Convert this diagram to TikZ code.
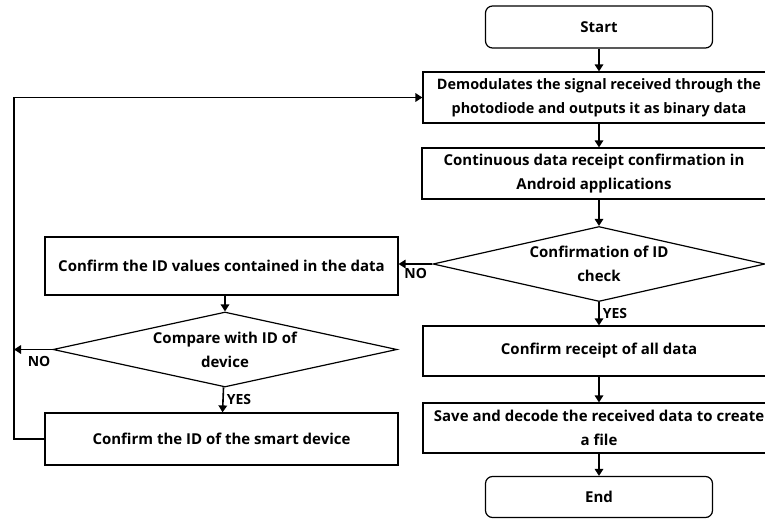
\documentclass[tikz,border=0pt]{standalone}
\usepackage{fontspec}
\setmainfont{Open Sans}
\usetikzlibrary{shapes.geometric,arrows.meta}

\tikzset{
  flow/.style={line width=1.6pt, -{Triangle[width=8.5pt,length=7pt]}},
  proc/.style={draw, line width=1.2pt, fill=white, align=center, inner sep=0pt,
    font=\bfseries\fontsize{15}{24}\selectfont},
  term/.style={proc, rounded corners=7pt, minimum width=227pt, minimum height=42pt},
  test/.style={proc, diamond, aspect=4.5, minimum height=75pt},
  tag/.style={font=\bfseries\fontsize{14}{16}\selectfont, inner sep=1pt}
}

\begin{document}
\begin{tikzpicture}[x=1pt,y=-1pt]
  \useasboundingbox (0,0) rectangle (765,519);
  \begin{scope}
  \clip (0,0) rectangle (765,519);

  %% right column
  \node[term] (start) at (599,27) {Start};
  \node[proc, minimum width=352pt, minimum height=51pt,
    font=\bfseries\fontsize{14.4}{24}\selectfont] (demod) at (599,97.5)
    {Demodulates the signal received through the\\photodiode and outputs it as binary data};
  \node[proc, minimum width=344pt, minimum height=51pt] (cont) at (594,173.5)
    {Continuous data receipt confirmation in\\Android applications};
  \node[test, minimum width=332pt] (chkid) at (599,264) {Confirmation of ID\\check};
  \node[proc, minimum width=352pt, minimum height=50pt] (recv) at (599,351)
    {Confirm receipt of all data};
  \node[proc, minimum width=352pt, minimum height=50pt] (save) at (599,428)
    {Save and decode the received data to create\\a file};
  \node[term, minimum height=41pt] (end) at (599,497) {End};

  %% left column
  \node[proc, minimum width=353pt, minimum height=58pt] (idval) at (221.5,266)
    {Confirm the ID values contained in the data};
  \node[test, minimum width=344pt] (cmpid) at (225,349.5) {Compare with ID of\\device};
  \node[proc, minimum width=353pt, minimum height=52pt] (smart) at (221.5,439)
    {Confirm the ID of the smart device};

  \coordinate (loop) at (14,0);

  \draw[flow] (start) -- (demod);
  \draw[flow] (demod) -- (demod |- cont.north);
  \draw[flow] (cont.south -| chkid) -- (chkid);
  \draw[flow] (chkid) -- node[tag, anchor=west, xshift=2pt]{YES} (recv);
  \draw[flow] (recv) -- (save);
  \draw[flow] (save) -- (end);
  \draw[flow] (chkid.west) -- (chkid.west -| idval.east)
    node[tag, anchor=north west, xshift=4pt, yshift=-3pt]{NO};

  \draw[flow] (idval.south -| cmpid) -- (cmpid);
  \draw[flow] (cmpid) -- node[tag, anchor=west, xshift=2pt]{YES} (smart);
  \draw[flow] (cmpid.west) -- (cmpid.west -| loop)
    node[tag, anchor=north west, xshift=12pt, yshift=-5pt]{NO};
  \draw[flow] (smart.west) -- (smart.west -| loop) |- (demod.west);
  \end{scope}
\end{tikzpicture}
\end{document}
